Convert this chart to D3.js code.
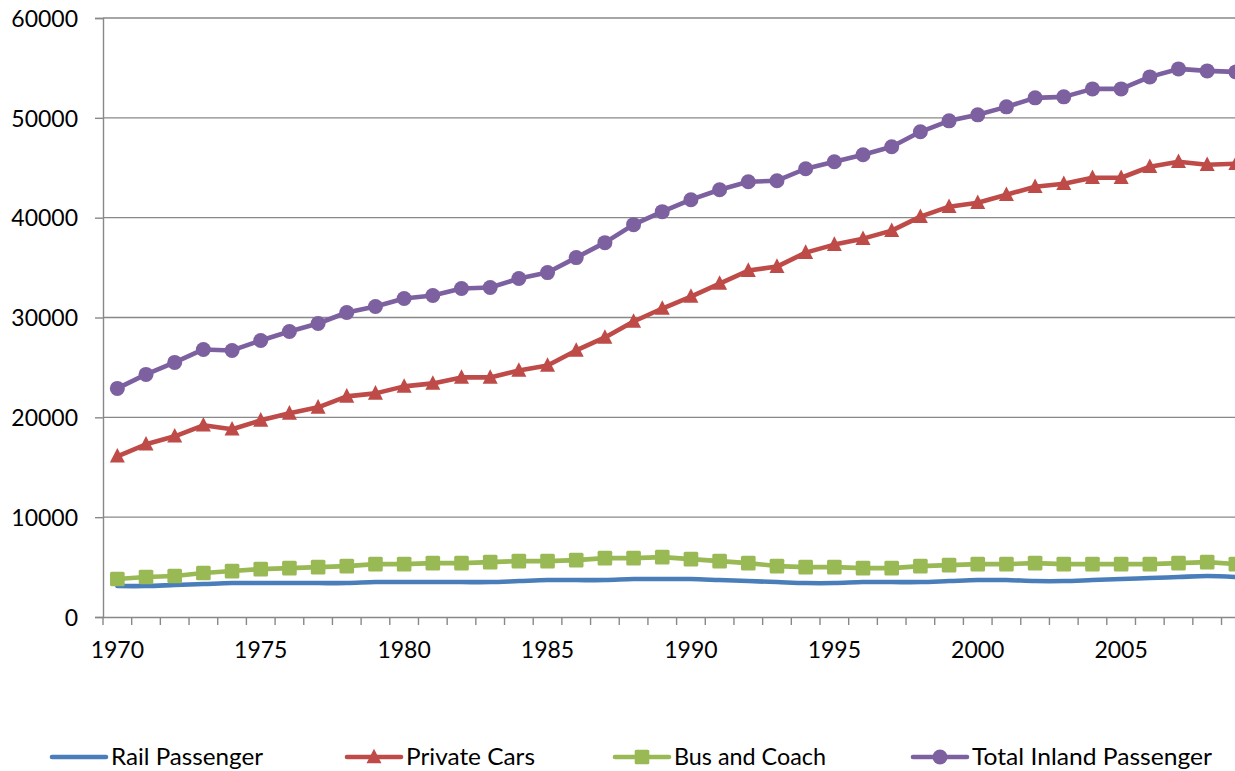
<!DOCTYPE html>
<html><head><meta charset="utf-8">
<script src="https://cdn.jsdelivr.net/npm/d3@7"></script>
<style>
html,body{margin:0;padding:0;background:#fff;overflow:hidden}
text{font-family:Lato,"Open Sans",sans-serif;fill:#000}
</style></head>
<body>
<svg id="chart" width="1235" height="771"></svg>
<script>
const years = d3.range(1970, 2010);
const rail = [3100,3100,3200,3300,3400,3400,3400,3400,3400,3500,3500,3500,3500,3500,3600,3700,3700,3700,3800,3800,3800,3700,3600,3500,3400,3400,3500,3500,3500,3600,3700,3700,3600,3600,3700,3800,3900,4000,4100,4000];
const cars = [16100,17300,18100,19200,18800,19700,20400,21000,22100,22400,23100,23400,24000,24000,24700,25200,26700,28000,29600,30900,32100,33400,34700,35100,36500,37300,37900,38700,40100,41100,41500,42300,43100,43400,44000,44000,45100,45600,45300,45400];
const bus = [3800,4000,4100,4400,4600,4800,4900,5000,5100,5300,5300,5400,5400,5500,5600,5600,5700,5900,5900,6000,5800,5600,5400,5100,5000,5000,4900,4900,5100,5200,5300,5300,5400,5300,5300,5300,5300,5400,5500,5300];
const total = [22900,24300,25500,26800,26700,27700,28600,29400,30500,31100,31900,32200,32900,33000,33900,34500,36000,37500,39300,40600,41800,42800,43600,43700,44900,45600,46300,47100,48600,49700,50300,51100,52000,52100,52900,52900,54100,54900,54700,54600];
const yTicks = [0,10000,20000,30000,40000,50000,60000];
const xLabels = [1970,1975,1980,1985,1990,1995,2000,2005];
const seriesNames = ["Rail Passenger","Private Cars","Bus and Coach","Total Inland Passenger"];
const seriesColors = ["#4A7EBB","#BE4B48","#98B954","#7D60A0"];
const seriesMarkers = ["none","triangle","square","circle"];

const svg = d3.select("#chart");
const x0 = 103, bw = 28.68;
const x = d3.scaleBand().domain(years).range([x0, x0 + bw*years.length]).paddingInner(0).paddingOuter(0);
const y = d3.scaleLinear().domain([0,60000]).range([617,18]);
const cx = d => x(d) + x.bandwidth()/2;
const grid = "#888";

// gridlines
svg.append("g").selectAll("line").data(yTicks.filter(t=>t>0)).join("line")
  .attr("x1", x0).attr("x2", 1260).attr("y1", d=>y(d)).attr("y2", d=>y(d))
  .attr("stroke", grid).attr("stroke-width", 1.4);

// y axis
const yAxis = svg.append("g").attr("transform", `translate(${x0},0)`)
  .call(d3.axisLeft(y).tickValues(yTicks).tickSize(8).tickPadding(17).tickFormat(d3.format("d")));
yAxis.select(".domain").attr("stroke", grid).attr("stroke-width", 1.4);
yAxis.selectAll(".tick line").attr("stroke", grid).attr("stroke-width", 1.4);
yAxis.selectAll("text").attr("font-size", 23).attr("font-family","Lato").attr("fill","#000").attr("dy","0.36em");

// x axis
const xAxis = svg.append("g").attr("transform", `translate(0,${y(0)})`)
  .call(d3.axisBottom(x).tickValues([]).tickSizeOuter(0));
xAxis.select(".domain").attr("stroke", grid).attr("stroke-width", 1.4);
svg.append("g").selectAll("line").data(years).join("line")
  .attr("x1", d=> x(d) + bw).attr("x2", d=> x(d) + bw)
  .attr("y1", y(0)).attr("y2", y(0)+8).attr("stroke", grid).attr("stroke-width", 1.4);
svg.append("line").attr("x1", x0).attr("x2", x0).attr("y1", y(0)).attr("y2", y(0)+8).attr("stroke", grid).attr("stroke-width", 1.4);
svg.append("g").selectAll("text").data(xLabels).join("text")
  .attr("x", d=>cx(d)).attr("y", 650).attr("dy","0.36em").attr("text-anchor","middle")
  .attr("font-size", 23).text(d=>d);

// series
const data = [rail, cars, bus, total];
const triPath = (s) => `M0,${-s*0.55}L${s*0.5},${s*0.42}L${-s*0.5},${s*0.42}Z`;
function drawMarker(g, type, color) {
  if (type === "circle") g.append("circle").attr("r", 7.5).attr("fill", color);
  else if (type === "square") g.append("rect").attr("x",-7.3).attr("y",-7.3).attr("width",14.6).attr("height",14.6).attr("rx",1.5).attr("fill", color);
  else if (type === "triangle") g.append("path").attr("d", triPath(15)).attr("fill", color);
}
data.forEach((vals, si) => {
  const color = seriesColors[si];
  const line = d3.line().x((d,i)=>cx(years[i])).y(d=>y(d))
    .curve(si === 0 ? d3.curveCatmullRom.alpha(0.5) : d3.curveLinear);
  svg.append("path").datum(vals).attr("d", line).attr("fill","none")
    .attr("stroke", color).attr("stroke-width", 4.6).attr("stroke-linejoin","round").attr("stroke-linecap","round");
  if (seriesMarkers[si] !== "none") {
    vals.forEach((v,i) => {
      const g = svg.append("g").attr("transform", `translate(${cx(years[i])},${y(v)})`);
      drawMarker(g, seriesMarkers[si], color);
    });
  }
});

// legend
const legX = [52, 347, 615, 913];
const legTextW = [152, 129, 152, 240];
const legY = 757;
seriesNames.forEach((name, i) => {
  const color = seriesColors[i];
  svg.append("line").attr("x1", legX[i]).attr("x2", legX[i]+54).attr("y1", legY).attr("y2", legY)
    .attr("stroke", color).attr("stroke-width", 4.6).attr("stroke-linecap","round");
  if (seriesMarkers[i] !== "none") {
    const g = svg.append("g").attr("transform", `translate(${legX[i]+27},${legY})`);
    drawMarker(g, seriesMarkers[i], color);
  }
  svg.append("text").attr("x", legX[i]+59).attr("y", legY).attr("dy","0.36em")
    .attr("font-size", 23).attr("textLength", legTextW[i]).attr("lengthAdjust","spacingAndGlyphs").text(name);
});
</script>
</body></html>
